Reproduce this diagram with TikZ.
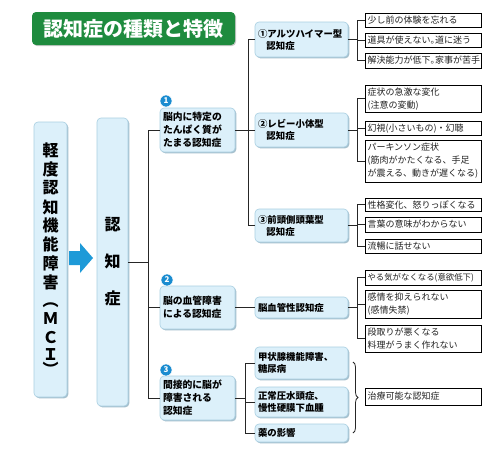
\documentclass[tikz,border=0pt]{standalone}
\usepackage{fontspec}
\newfontfamily\jp{Noto Sans CJK JP}
\usetikzlibrary{shadows,decorations.pathreplacing}
\definecolor{lb}{HTML}{DCF0FA}
\definecolor{lbd}{HTML}{A9CFE2}
\definecolor{shd}{HTML}{8FAFC0}
\definecolor{tg}{HTML}{1E8B3E}
\definecolor{nb}{HTML}{1A8CD0}
\definecolor{ab}{HTML}{1E9AD8}
\definecolor{txt}{HTML}{222222}
\begin{document}
\begin{tikzpicture}[x=1pt,y=-1pt,
  bluebox/.style={fill=lb, draw=lbd, line width=0.6pt, rounded corners=4pt,
    drop shadow={shadow xshift=1.3pt, shadow yshift=-1.3pt, fill=shd, opacity=0.8},
    align=left, anchor=north west, inner sep=3pt, outer sep=0pt, text=black},
  grp/.style={bluebox, font=\jp\bfseries\fontsize{9.8}{13}\selectfont, text width=69pt, minimum width=75pt},
  sub/.style={bluebox, font=\jp\bfseries\fontsize{9.4}{12}\selectfont, text width=87pt, minimum width=93pt},
  sym/.style={draw=black, line width=0.7pt, fill=white, text=txt,
    font=\jp\fontsize{9}{13}\selectfont, align=left, anchor=north west,
    inner sep=2.5pt, outer sep=0pt, text width=111pt, minimum width=116pt},
  bigch/.style={font=\jp\bfseries\fontsize{16}{16}\selectfont, inner sep=0pt},
  numc/.style={circle, fill=nb, draw=white, line width=0.5pt, text=white, inner sep=0pt,
    minimum size=12pt, font=\jp\bfseries\fontsize{8}{8}\selectfont},
  conn/.style={draw=black!85, line width=0.8pt}
]
\useasboundingbox (0,0) rectangle (491,455);
\fill[white] (0,0) rectangle (491,455);

% title
\node[fill=tg, rounded corners=4pt, minimum width=203pt, minimum height=33pt, text=white,
  font=\jp\bfseries\fontsize{20}{20}\selectfont, inner sep=0pt,
  drop shadow={shadow xshift=1pt, shadow yshift=-1pt, fill=black!35, opacity=0.6}]
  (title) at (133.5,28.5) {認知症の種類と特徴};

% MCI column
\node[bluebox, minimum width=33pt, minimum height=275pt] (mci) at (34,122) {};
\foreach \c/\yy [count=\i] in {軽/150,度/169,認/188,知/207,機/225,能/244,障/263,害/282,︵/305,Ｍ/319,Ｃ/338,Ｉ/355,︶/369}
  \node[bigch] (m\i) at (50.5,\yy) {\c};

% arrow
\fill[ab] (69,251) -- (80,251) -- (80,243) -- (93,258) -- (80,273) -- (80,265) -- (69,265) -- cycle;

% dementia column
\node[bluebox, minimum width=31pt, minimum height=288pt] (nin) at (97,118) {};
\node[bigch] (c1) at (112.5,225) {認};
\node[bigch] (c2) at (112.5,261) {知};
\node[bigch] (c3) at (112.5,298) {症};

% groups
\node[grp, minimum height=44pt] (g1) at (160,108) {脳内に特定の\\たんぱく質が\\たまる認知症};
\node[grp, minimum height=43pt] (g2) at (160,286) {脳の血管障害\\による認知症};
\node[grp, minimum height=44pt] (g3) at (160,376) {間接的に脳が\\障害される\\認知症};
\node[numc] (n1) at (166,101) {1};
\node[numc] (n2) at (167,280) {2};
\node[numc] (n3) at (166,370) {3};

% subtypes
\node[sub, minimum height=35pt] (s1) at (255,22) {①アルツハイマー型\\\hspace*{0.9em}認知症};
\node[sub, minimum height=34pt] (s2) at (255,113) {②レビー小体型\\\hspace*{0.9em}認知症};
\node[sub, minimum height=33pt] (s3) at (255,209) {③前頭側頭葉型\\\hspace*{0.9em}認知症};
\node[sub, minimum height=21pt] (sv) at (255,297) {脳血管性認知症};
\node[sub, minimum height=32pt] (k1) at (255,347) {甲状腺機能障害、\\糖尿病};
\node[sub, minimum height=30pt] (k2) at (255,387) {正常圧水頭症、\\慢性硬膜下血腫};
\node[sub, minimum height=18pt] (k3) at (255,424) {薬の影響};

% symptoms
\node[sym, minimum height=14pt] (a1) at (365,13) {少し前の体験を忘れる};
\node[sym, minimum height=14pt] (a2) at (365,33) {道具が使えない｡道に迷う};
\node[sym, minimum height=15pt] (a3) at (365,53) {解決能力が低下｡家事が苦手};
\node[sym, minimum height=27pt] (l1) at (365,85) {症状の急激な変化\\(注意の変動)};
\node[sym, minimum height=14pt] (l2) at (365,121) {幻視(小さいもの)・幻聴};
\node[sym, minimum height=42pt] (l3) at (365,140) {パーキンソン症状\\(筋肉がかたくなる、手足\\が震える、動きが遅くなる)};
\node[sym, minimum height=13pt] (f1) at (365,198) {性格変化、怒りっぽくなる};
\node[sym, minimum height=15pt] (f2) at (365,217) {言葉の意味がわからない};
\node[sym, minimum height=14pt] (f3) at (365,239) {流暢に話せない};
\node[sym, minimum height=15pt, font=\jp\fontsize{8.4}{13}\selectfont] (v1) at (365,270) {やる気がなくなる(意欲低下)};
\node[sym, minimum height=28pt] (v2) at (365,290) {感情を抑えられない\\(感情失禁)};
\node[sym, minimum height=27pt] (v3) at (365,325) {段取りが悪くなる\\料理がうまく作れない};
\node[sym, minimum height=17pt] (tr) at (365,388) {治療可能な認知症};

% trunk coordinates
\coordinate (t0) at (148,0);
\coordinate (t1) at (248,0);
\coordinate (t3) at (245,0);
\coordinate (t4) at (357,0);

% main connectors
\draw[conn] (nin.east) -- (nin.east -| t0);
\draw[conn] (g1.west) -- (g1.west -| t0) -- (g3.west -| t0) -- (g3.west);
\draw[conn] (g2.west) -- (g2.west -| t0);

\draw[conn] (g1.east) -- (g1.east -| t1);
\draw[conn] (s1.west) -- (s1.west -| t1) -- (s3.west -| t1) -- (s3.west);
\draw[conn] (s2.west) -- (s2.west -| t1);

\draw[conn] (g2.east) -- (sv.west);

\draw[conn] (g3.east) -- (g3.east -| t3);
\draw[conn] (k1.west) -- (k1.west -| t3) -- (k3.west -| t3) -- (k3.west);
\draw[conn] (k2.west) -- (k2.west -| t3);

% symptom connectors
\foreach \p/\x/\y/\z in {s1/a1/a2/a3, s2/l1/l2/l3, s3/f1/f2/f3, sv/v1/v2/v3} {
  \draw[conn] (\p.east) -- (\p.east -| t4);
  \draw[conn] (\x.west) -- (\x.west -| t4) -- (\z.west -| t4) -- (\z.west);
  \draw[conn] (\y.west) -- (\y.west -| t4);
}

% brace
\coordinate (b1) at (353,362);
\coordinate (b2) at (353,433);
\draw[conn, decorate, decoration={brace, amplitude=5pt}] (b1) -- (b2);
\end{tikzpicture}
\end{document}
